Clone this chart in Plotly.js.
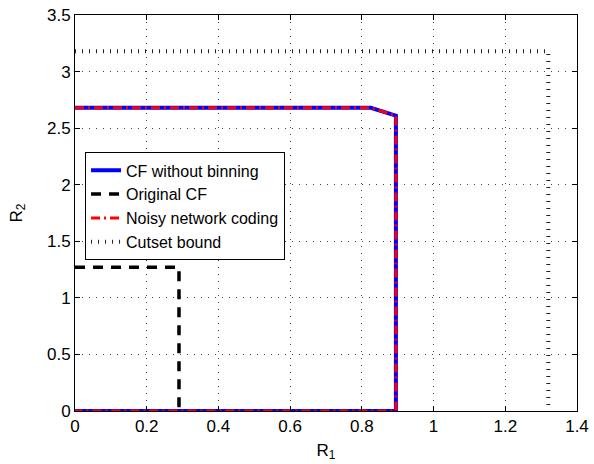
<!DOCTYPE html>
<html>
<head>
<meta charset="utf-8">
<script src="https://cdn.plot.ly/plotly-3.0.1.min.js"></script>
<style>
  html, body { margin: 0; padding: 0; background: #fff; }
  #chart { width: 594px; height: 464px; }
</style>
</head>
<body>
<div id="chart"></div>
<script>
// Rate regions (R1, R2) for each scheme
const cfNoBinR1 = [0, 0.825, 0.895, 0.895, 0];
const cfNoBinR2 = [2.68, 2.68, 2.61, 0, 0];

const origCfR1 = [0, 0.29, 0.29];
const origCfR2 = [1.27, 1.27, 0];

const nncR1 = [0, 0.825, 0.895, 0.895, 0];
const nncR2 = [2.68, 2.68, 2.61, 0, 0];

const cutsetR1 = [0, 1.32, 1.32];
const cutsetR2 = [3.18, 3.18, 0];

const xTicks = [0, 0.2, 0.4, 0.6, 0.8, 1, 1.2, 1.4];
const xTickText = ['0', '0.2', '0.4', '0.6', '0.8', '1', '1.2', '1.4'];
const yTicks = [0, 0.5, 1, 1.5, 2, 2.5, 3, 3.5];
const yTickText = ['0', '0.5', '1', '1.5', '2', '2.5', '3', '3.5'];

const FONT = 'Liberation Sans, Arial, Helvetica, sans-serif';

const traces = [
  { x: cfNoBinR1, y: cfNoBinR2, mode: 'lines', name: 'CF without binning',
    line: { color: '#0000ff', width: 4 } },
  { x: origCfR1, y: origCfR2, mode: 'lines', name: 'Original CF',
    line: { color: '#000000', width: 3.5, dash: '10px,8px' } },
  { x: nncR1, y: nncR2, mode: 'lines', name: 'Noisy network coding',
    line: { color: '#ff0000', width: 3, dash: '9px,4px,2px,4px' } },
  { x: cutsetR1, y: cutsetR2, mode: 'lines', name: 'Cutset bound',
    line: { color: '#222222', width: 4, dash: '1px,6px' } }
];

const axisCommon = {
  showline: true, linecolor: '#000', linewidth: 1, mirror: 'ticks',
  ticks: 'inside', ticklen: 5, tickcolor: '#000',
  showgrid: true, gridcolor: '#444', griddash: '1px,6px', gridwidth: 1,
  zeroline: false,
  tickfont: { family: FONT, size: 17, color: '#000' }
};

const layout = {
  width: 594, height: 464,
  margin: { l: 75, r: 17, t: 15, b: 53 },
  paper_bgcolor: '#fff', plot_bgcolor: '#fff',
  showlegend: true,
  legend: {
    x: 0.02, y: 0.653, xanchor: 'left', yanchor: 'top',
    bgcolor: '#fff', bordercolor: '#000', borderwidth: 1,
    font: { family: FONT, size: 16, color: '#000' },
    tracegroupgap: 0
  },
  xaxis: Object.assign({}, axisCommon, {
    range: [0, 1.4], tickvals: xTicks, ticktext: xTickText,
    title: { text: 'R<sub>1</sub>', standoff: 8,
      font: { family: FONT, size: 17, color: '#000' } }
  }),
  yaxis: Object.assign({}, axisCommon, {
    range: [0, 3.5], tickvals: yTicks, ticktext: yTickText,
    title: { text: 'R<sub>2</sub>', standoff: 20,
      font: { family: FONT, size: 17, color: '#000' } }
  })
};

Plotly.newPlot('chart', traces, layout, { displayModeBar: false, staticPlot: true });
</script>
</body>
</html>
